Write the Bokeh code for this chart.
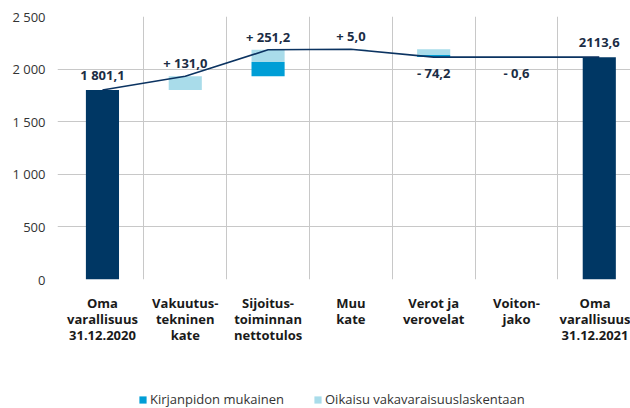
from bokeh.plotting import figure
from bokeh.models import FixedTicker, Legend, LegendItem, Range1d
from bokeh.layouts import column
from bokeh.core.properties import value
from bokeh.embed import file_html
from bokeh.resources import INLINE
import numpy as np

categories = ["Oma\nvarallisuus\n31.12.2020", "Vakuutus-\ntekninen\nkate",
              "Sijoitus-\ntoiminnan\nnettotulos", "Muu\nkate",
              "Verot ja\nverovelat", "Voiton-\njako", "Oma\nvarallisuus\n31.12.2021"]
start_total = 1801.1
end_total = 2113.6
kirjanpito = [0.0, 0.0, 135.0, 0.0, -20.0, -0.6, 0.0]
oikaisu = [0.0, 131.0, 116.2, 5.0, -54.2, 0.0, 0.0]
value_labels = ["1 801,1", "+ 131,0", "+ 251,2", "+ 5,0", "- 74,2", "- 0,6", "2113,6"]
y_ticks = [0, 500, 1000, 1500, 2000, 2500]
y_tick_labels = ["0", "500", "1 000", "1 500", "2 000", "2 500"]
legend_labels = ["Kirjanpidon mukainen", "Oikaisu vakavaraisuuslaskentaan"]

NAVY = "#003764"
BLUE = "#009ed6"
LIGHT = "#a9dcea"
FONT = "Open Sans"

n = len(categories)
xs = np.arange(n)

levels = [start_total]
for i in range(1, n - 1):
    levels.append(levels[-1] + kirjanpito[i] + oikaisu[i])
levels.append(end_total)

W, H = 630, 385
BL, BT, BB = 57, 16, 106
px_per_unit = (H - BT - BB) / 2500.0

b_x, b_bot, b_top = [], [], []
l_x, l_bot, l_top = [], [], []
lab_y = []
for i in range(n):
    if i == 0 or i == n - 1:
        lab_y.append(levels[i] + 15 / px_per_unit)
        continue
    base = levels[i - 1]
    new = levels[i]
    lo, hi = min(base, new), max(base, new)
    k = abs(kirjanpito[i])
    b_x.append(i); b_bot.append(lo); b_top.append(lo + k)
    l_x.append(i); l_bot.append(lo + k); l_top.append(hi)
    if new >= base:
        lab_y.append(hi + 13 / px_per_unit)
    else:
        lab_y.append(lo - 16 / px_per_unit)

p = figure(width=W, height=H, output_backend="svg", toolbar_location=None,
           x_range=Range1d(-0.543, 6.377), y_range=Range1d(0, 2500),
           min_border_left=BL, min_border_right=0, min_border_top=BT,
           min_border_bottom=BB)
p.outline_line_color = None
p.background_fill_color = "white"

p.vbar(x=[0, n - 1], top=[start_total, end_total], bottom=0, width=0.4,
       fill_color=NAVY, line_color=None)
p.vbar(x=b_x, bottom=b_bot, top=b_top, width=0.4, fill_color=BLUE, line_color=None)
p.vbar(x=l_x, bottom=l_bot, top=l_top, width=0.4, fill_color=LIGHT, line_color=None)

p.line(x=list(xs), y=levels, line_color="#0b3361", line_width=1.6)

p.text(x=list(xs), y=lab_y, text=value_labels, text_font=value(FONT),
       text_font_style="bold", text_font_size="13px", text_color="#1b2d45",
       text_align="center", text_baseline="middle")

p.xaxis.ticker = FixedTicker(ticks=list(range(n)))
p.xaxis.major_label_overrides = {i: c for i, c in enumerate(categories)}
p.xaxis.major_label_text_font = FONT
p.xaxis.major_label_text_font_style = "bold"
p.xaxis.major_label_text_font_size = "13px"
p.xaxis.major_label_text_color = "#1a1a1a"
p.xaxis.major_label_text_line_height = 0.91
p.xaxis.major_label_standoff = 8
p.xaxis.axis_line_color = None
p.xaxis.major_tick_line_color = None
p.xaxis.minor_tick_line_color = None

p.yaxis.ticker = FixedTicker(ticks=y_ticks)
p.yaxis.major_label_overrides = {t: l for t, l in zip(y_ticks, y_tick_labels)}
p.yaxis.major_label_text_font = FONT
p.yaxis.major_label_text_font_size = "13px"
p.yaxis.major_label_text_color = "#333333"
p.yaxis.major_label_standoff = 6
p.yaxis.axis_line_color = None
p.yaxis.major_tick_line_color = None
p.yaxis.minor_tick_line_color = None

p.xgrid.ticker = FixedTicker(ticks=[i + 0.5 for i in range(n - 1)])
p.xgrid.grid_line_color = "#c8c8c8"
p.ygrid.grid_line_color = "#c8c8c8"

# legend strip
p2 = figure(width=W, height=408 - H, output_backend="svg", toolbar_location=None,
            x_range=Range1d(0, 1), y_range=Range1d(0, 1),
            min_border=0)
p2.outline_line_color = None
p2.axis.visible = False
p2.grid.visible = False
d1 = p2.vbar(x=[-5], top=[0], width=0.1, fill_color=BLUE, line_color=None)
d2 = p2.vbar(x=[-5], top=[0], width=0.1, fill_color=LIGHT, line_color=None)
legend = Legend(items=[LegendItem(label=legend_labels[0], renderers=[d1]),
                       LegendItem(label=legend_labels[1], renderers=[d2])],
                orientation="horizontal", location=(81, 0),
                glyph_width=9, glyph_height=9, label_standoff=3, spacing=29,
                padding=0, margin=0, border_line_color=None,
                background_fill_alpha=0,
                label_text_font=FONT, label_text_font_size="13px",
                label_text_color="#333333", label_height=14)
p2.add_layout(legend, "center")

open("out.html", "w").write(file_html(column(p, p2), INLINE))
